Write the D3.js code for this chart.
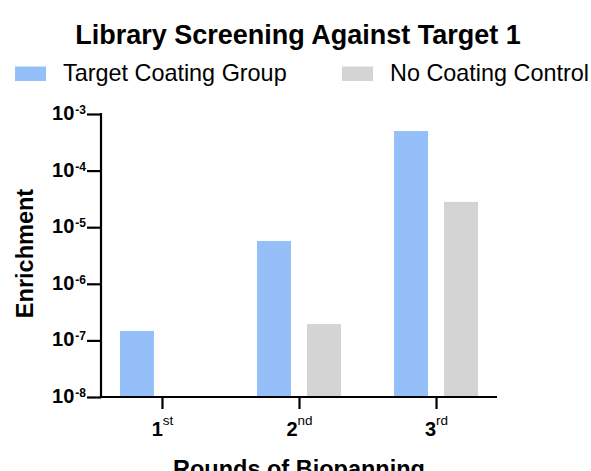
<!DOCTYPE html>
<html><head><meta charset="utf-8">
<script src="https://cdn.jsdelivr.net/npm/d3@7"></script>
<style>body{margin:0;background:#fff}svg{display:block;font-family:"Liberation Sans",Arial,sans-serif}</style>
</head><body><svg id="c" width="591" height="471"></svg>
<script>
const categories = ["1", "2", "3"];
const categorySuffix = ["st", "nd", "rd"];
const seriesNames = ["Target Coating Group", "No Coating Control"];
const targetValues = [1.47e-7, 5.7e-6, 5.0e-4];
const controlValues = [null, 1.95e-7, 2.8e-5];
const yTickExponents = [-3, -4, -5, -6, -7, -8];
const colors = ["#94bff8", "#d4d4d4"];

const svg = d3.select("#c");
const pLeft = 101, pRight = 497, pTop = 114, pBottom = 397;

const x = d3.scalePoint().domain(categories).range([pLeft, pRight]).padding(0.445);
const xs = d3.scaleBand().domain([0, 1]).range([-42, 42]).paddingInner(0.32);
const y = d3.scaleLog().domain([1e-8, 1e-3]).range([pBottom, pTop]);

const series = [targetValues, controlValues];
series.forEach((vals, si) => {
  svg.append("g").selectAll("rect").data(categories.map((c, i) => ({c, v: vals[i]})).filter(d => d.v != null))
    .join("rect")
    .attr("x", d => x(d.c) + xs(si))
    .attr("width", xs.bandwidth())
    .attr("y", d => y(d.v))
    .attr("height", d => pBottom - y(d.v))
    .attr("fill", colors[si]);
});

// Y axis
const yAxis = d3.axisLeft(y).tickValues(yTickExponents.map(e => Math.pow(10, e))).tickSize(14).tickFormat("");
const gy = svg.append("g").attr("transform", `translate(${pLeft},0)`).call(yAxis);
gy.select(".domain").attr("stroke", "#000").attr("stroke-width", 2.2).attr("d", `M0,${pTop-1}V${pBottom}`);
gy.selectAll(".tick line").attr("stroke", "#000").attr("stroke-width", 2.2);
gy.selectAll(".tick").each(function(d) {
  const e = Math.round(Math.log10(d));
  const t = d3.select(this).append("text").attr("x", -15).attr("y", 5.5).attr("text-anchor", "end").attr("fill", "#000");
  t.append("tspan").attr("font-weight", "bold").attr("font-size", 20).text("10");
  t.append("tspan").attr("font-weight", "bold").attr("font-size", 12).attr("dy", -6).attr("dx", 1).text(String(e));
});

// X axis
const xAxis = d3.axisBottom(x).tickSize(12).tickFormat("");
const gx = svg.append("g").attr("transform", `translate(0,${pBottom})`).call(xAxis);
gx.select(".domain").attr("stroke", "#000").attr("stroke-width", 2.2).attr("d", `M${pLeft-1},0H${pRight}`);
gx.selectAll(".tick line").attr("stroke", "#000").attr("stroke-width", 2.2);
gx.selectAll(".tick").each(function(d, i) {
  const t = d3.select(this).append("text").attr("y", 39).attr("text-anchor", "middle").attr("fill", "#000");
  t.append("tspan").attr("font-weight", "bold").attr("font-size", 20).text(d);
  t.append("tspan").attr("font-size", 13.5).attr("dy", -11).text(categorySuffix[i]);
});

// Title
svg.append("text").attr("x", 298).attr("y", 43.5).attr("text-anchor", "middle")
  .attr("font-weight", "bold").attr("font-size", 27).text("Library Screening Against Target 1");

// Legend
const legX = [15, 342], legTextX = [63, 390];
seriesNames.forEach((n, i) => {
  svg.append("rect").attr("x", legX[i]).attr("y", 66.5).attr("width", 31).attr("height", 14.5).attr("fill", colors[i]);
  svg.append("text").attr("x", legTextX[i]).attr("y", 81).attr("font-size", 23.4).text(n);
});

// Axis titles
svg.append("text").attr("transform", `translate(33,253.5) rotate(-90)`).attr("text-anchor", "middle")
  .attr("font-weight", "bold").attr("font-size", 23.5).text("Enrichment");
svg.append("text").attr("x", 299).attr("y", 477).attr("text-anchor", "middle")
  .attr("font-weight", "bold").attr("font-size", 23.5).text("Rounds of Biopanning");
</script></body></html>
